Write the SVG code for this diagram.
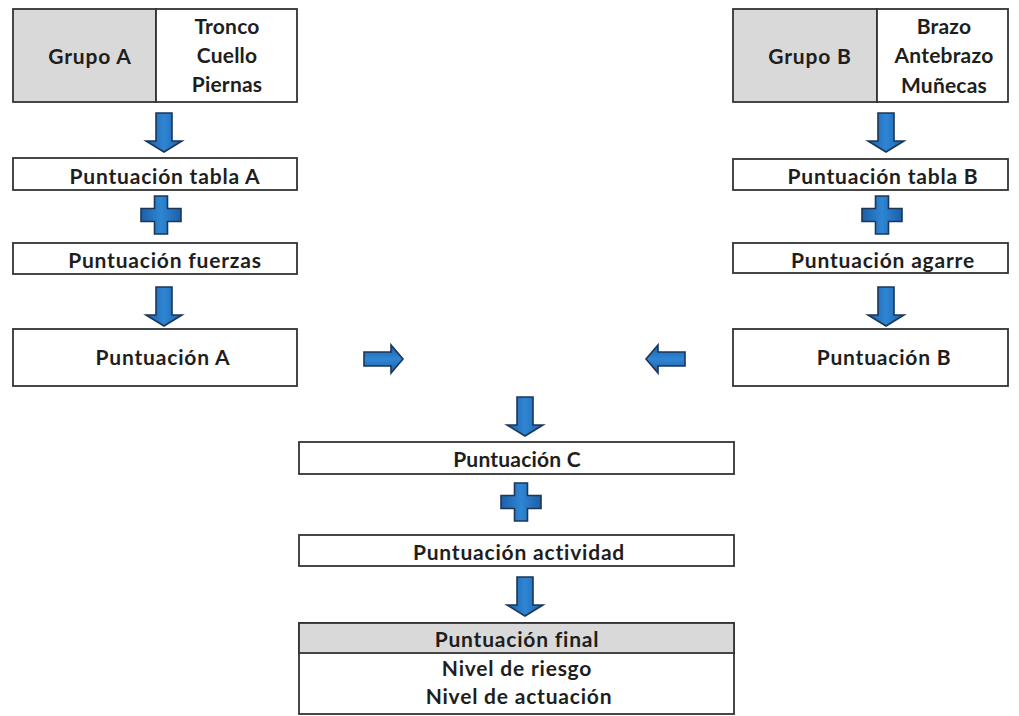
<svg xmlns="http://www.w3.org/2000/svg" width="1019" height="716" viewBox="0 0 1019 716">
<style>
.box{fill:#ffffff;stroke:#333333;stroke-width:1.8}
.gray{fill:#d9d9d9;stroke:#333333;stroke-width:1.8}
.t{font-family:Lato,"Open Sans","Liberation Sans",sans-serif;font-weight:bold;font-size:21px;letter-spacing:0.8px;fill:#1e1e1e;text-anchor:middle}
.arr{fill:url(#blue);stroke:#1b3657;stroke-width:1.6;stroke-linejoin:miter}
</style>
<defs>
<linearGradient id="blue" x1="0" y1="0" x2="1" y2="0">
<stop offset="0" stop-color="#1c5fa6"/>
<stop offset="0.5" stop-color="#2f86d4"/>
<stop offset="1" stop-color="#1c5fa6"/>
</linearGradient>
<linearGradient id="blueV" x1="0" y1="0" x2="0" y2="1">
<stop offset="0" stop-color="#1c5fa6"/>
<stop offset="0.5" stop-color="#2f86d4"/>
<stop offset="1" stop-color="#1c5fa6"/>
</linearGradient>
<path id="down" d="M-8,0 H8 V28 H18 L0,39 L-18,28 H-8 Z"/>
<path id="right" d="M0,-7 H27 V-14 L39,0 L27,14 V7 H0 Z"/>
<path id="plus" d="M-6.5,-19 H6.5 V-6.5 H20 V6.5 H6.5 V19 H-6.5 V6.5 H-20 V-6.5 H-6.5 Z"/>
</defs>

<g id="grupoA">
<rect class="gray" x="13" y="9" width="143" height="93"/>
<rect class="box" x="156" y="9" width="141" height="93"/>
<text class="t" x="90" y="64">Grupo A</text>
<text class="t" x="227" y="34" style="letter-spacing:0.2px">Tronco</text>
<text class="t" x="227" y="63" style="letter-spacing:0.2px">Cuello</text>
<text class="t" x="227" y="92" style="letter-spacing:0.2px">Piernas</text>
</g>
<g id="tablaA">
<rect class="box" x="13" y="158" width="284" height="32"/>
<text class="t" x="165" y="184">Puntuación tabla A</text>
</g>
<g id="fuerzas">
<rect class="box" x="13" y="243" width="284" height="31"/>
<text class="t" x="165" y="268">Puntuación fuerzas</text>
</g>
<g id="puntA">
<rect class="box" x="13" y="329" width="284" height="57"/>
<text class="t" x="163" y="365">Puntuación A</text>
</g>

<g id="grupoB">
<rect class="gray" x="733" y="9" width="144" height="93"/>
<rect class="box" x="877" y="9" width="131" height="93"/>
<text class="t" x="810" y="64">Grupo B</text>
<text class="t" x="944" y="34" style="letter-spacing:0.2px">Brazo</text>
<text class="t" x="944" y="63" style="letter-spacing:0.2px">Antebrazo</text>
<text class="t" x="944" y="93" style="letter-spacing:0.2px">Muñecas</text>
</g>
<g id="tablaB">
<rect class="box" x="733" y="159" width="275" height="31"/>
<text class="t" x="883" y="184">Puntuación tabla B</text>
</g>
<g id="agarre">
<rect class="box" x="733" y="243" width="275" height="30"/>
<text class="t" x="883" y="268">Puntuación agarre</text>
</g>
<g id="puntB">
<rect class="box" x="733" y="329" width="275" height="57"/>
<text class="t" x="884" y="365">Puntuación B</text>
</g>

<g id="puntC">
<rect class="box" x="299" y="442" width="435" height="32"/>
<text class="t" x="517" y="467" style="letter-spacing:0.2px">Puntuación C</text>
</g>
<g id="actividad">
<rect class="box" x="299" y="535" width="435" height="31"/>
<text class="t" x="519" y="560">Puntuación actividad</text>
</g>
<g id="final">
<rect class="box" x="299" y="623" width="435" height="91"/>
<rect class="gray" x="299" y="623" width="435" height="30"/>
<text class="t" x="517" y="647">Puntuación final</text>
<text class="t" x="517" y="676">Nivel de riesgo</text>
<text class="t" x="519" y="704">Nivel de actuación</text>
</g>

<g id="connectors">
<use href="#down" class="arr" transform="translate(164,113)"/>
<use href="#plus" class="arr" transform="translate(161,215)"/>
<use href="#down" class="arr" transform="translate(164,287)"/>
<use href="#down" class="arr" transform="translate(886,113)"/>
<use href="#plus" class="arr" transform="translate(882,215)"/>
<use href="#down" class="arr" transform="translate(886,287)"/>
<use href="#right" class="arr" style="fill:url(#blueV)" transform="translate(364,359)"/>
<use href="#right" class="arr" style="fill:url(#blueV)" transform="translate(685,359) scale(-1,1)"/>
<use href="#down" class="arr" transform="translate(525,397)"/>
<use href="#plus" class="arr" transform="translate(521,502)"/>
<use href="#down" class="arr" transform="translate(525,577)"/>
</g>
</svg>
